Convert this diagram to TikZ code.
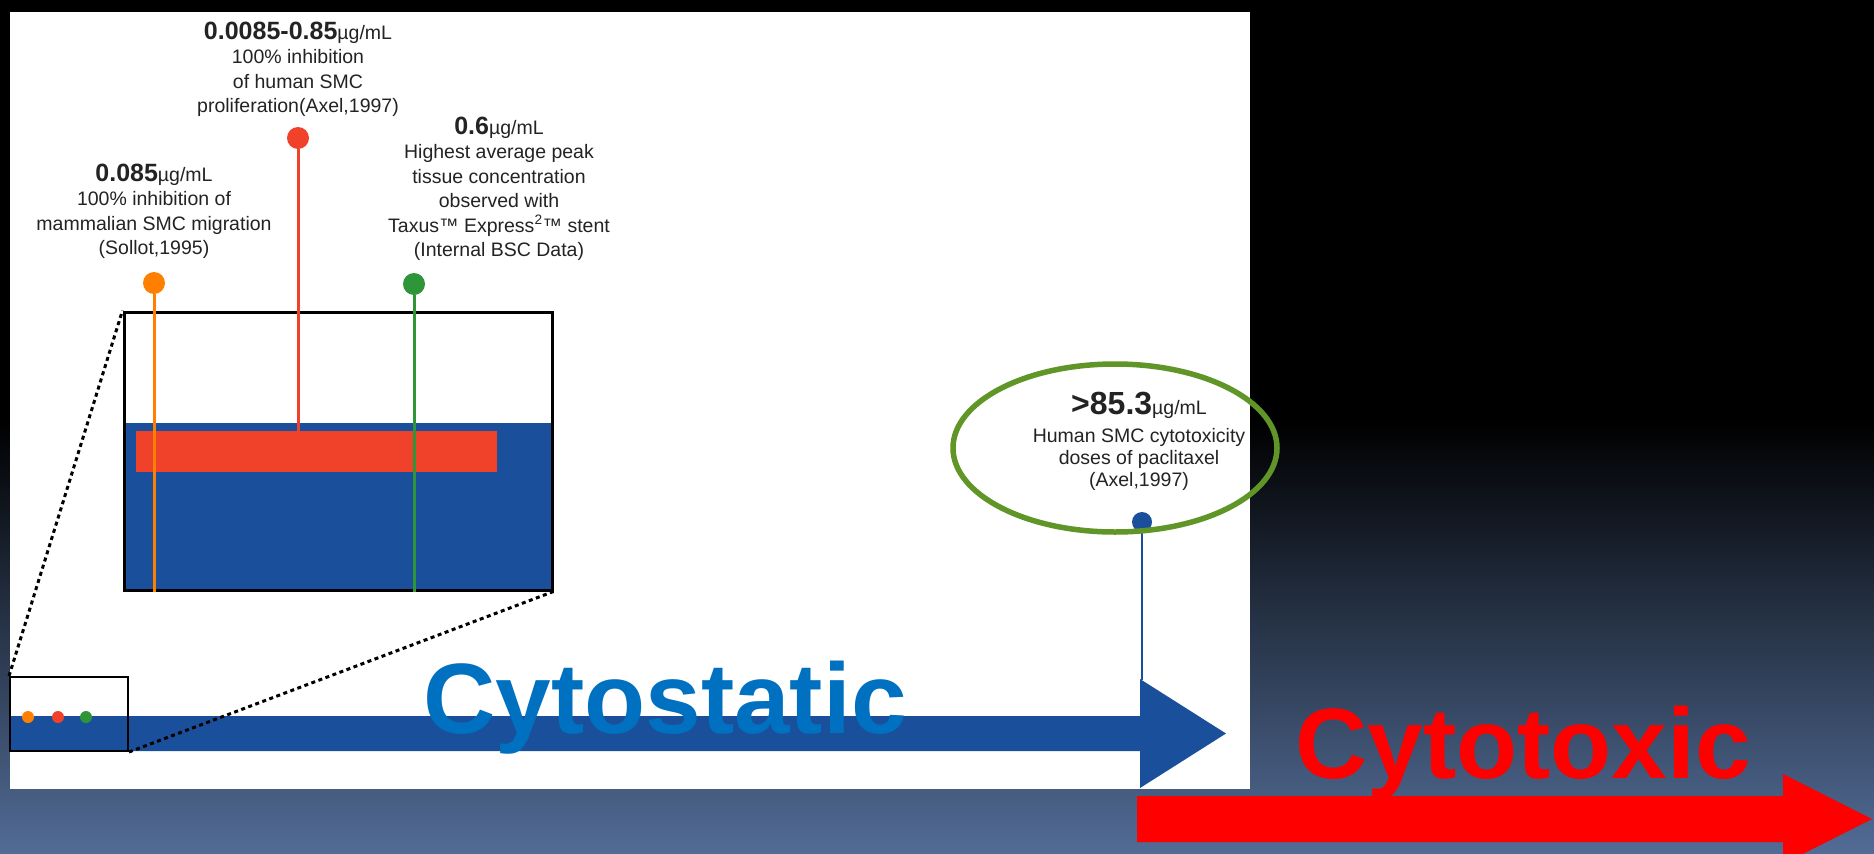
\documentclass[tikz,border=0pt]{standalone}
\usepackage{fontspec}
\setmainfont{Liberation Sans}
\usetikzlibrary{positioning,shapes.geometric}
\definecolor{axisblue}{RGB}{26,80,155}
\definecolor{wordblue}{RGB}{0,112,192}
\definecolor{migorange}{RGB}{255,128,0}
\definecolor{prolred}{RGB}{240,66,42}
\definecolor{peakgreen}{RGB}{46,150,56}
\definecolor{ringgreen}{RGB}{96,150,40}
\definecolor{slate}{RGB}{82,108,150}
\definecolor{ink}{RGB}{35,35,35}
\newcommand{\conc}[2][25]{{\fontsize{#1}{#1}\selectfont\bfseries #2}µg/mL}
\tikzset{
    doses/.style={x=1pt,y=-1pt},
    dosedot/.style={circle, fill=#1, inner sep=0pt, minimum size=22pt},
    minidot/.style={circle, fill=#1, inner sep=0pt, minimum size=12pt},
    stem/.style={draw=#1, line width=3pt},
    note/.style={align=center, inner sep=0pt, text=ink, font=\fontsize{19.5}{24.5}\selectfont},
    winbox/.style={draw, line width=#1, inner sep=0pt},
    zoomline/.style={dash pattern=on 4pt off 3.5pt, line width=3pt},
    bigword/.style={anchor=base, inner sep=0pt, font=\fontsize{100}{100}\selectfont\bfseries},
    }
\begin{document}
\begin{tikzpicture}[doses]
    \useasboundingbox (0,0) rectangle (1874,854);
    \clip (0,0) rectangle (1874,854);
    \fill[black] (0,0) rectangle (1874,854);
    \shade[top color=black, bottom color=slate] (0,420) rectangle (1874,854);
    \fill[white] (10,12) rectangle (1250,789);

    % enlarged window
    \fill[axisblue] (124,423) rectangle (552,590);
    \node[fill=prolred, inner sep=0pt, minimum width=361pt, minimum height=41pt] (bar) at (316.5,451.5) {};
    \node[winbox=3pt, minimum width=428pt, minimum height=278pt] (inset) at (338,451) {};

    % concentration axis
    \fill[axisblue] (10,716) -- (1140,716) -- (1140,679) -- (1226,733.5) -- (1140,788) -- (1140,751) -- (10,751) -- cycle;
    \node[winbox=2pt, minimum width=118pt, minimum height=74pt] (window) at (69,714) {};
    \node[minidot=migorange] (m1) at (28,717) {};
    \node[minidot=prolred] (m2) at (58,717) {};
    \node[minidot=peakgreen] (m3) at (86,717) {};
    \path[zoomline] (window.north west) edge (inset.north west)
                    (window.south east) edge (inset.south east);
    \coordinate (head) at (1142,680);

    \node[dosedot=migorange] (d1) at (154,283) {};
    \node[dosedot=prolred] (d2) at (298,138) {};
    \node[dosedot=peakgreen] (d3) at (414,284) {};
    \node[dosedot=axisblue, minimum size=20pt] (d4) at (1142,522) {};

    \path[stem=migorange] (d1) edge (d1 |- inset.south);
    \path[stem=prolred] (d2) edge (d2 |- bar.north);
    \path[stem=peakgreen] (d3) edge (d3 |- inset.south);
    \path[stem=axisblue, line width=2.5pt] (d4) edge (head);

    \node[note, above=13pt of d1] (l1) {\conc{0.085}\\100\% inhibition of\\mammalian SMC migration\\(Sollot,1995)};
    \node[note, above=10pt of d2] (l2) {\conc{0.0085-0.85}\\100\% inhibition\\of human SMC\\proliferation(Axel,1997)};
    \node[note, above=12pt of d3, xshift=85pt] (l3) {\conc{0.6}\\Highest average peak\\tissue concentration\\observed with\\Taxus™ Express\textsuperscript{2}™ stent\\(Internal BSC Data)};

    \node[draw=ringgreen, line width=5.5pt, ellipse, minimum width=324pt, minimum height=168pt] (ring) at (1115,448) {};
    \node[note, font=\fontsize{19.5}{22}\selectfont] (l4) at (1139,441) {\conc[32]{>85.3}\\[6pt]Human SMC cytotoxicity\\doses of paclitaxel\\(Axel,1997)};

    \node[bigword, text=wordblue] (stat) at (665,733) {Cytostatic};

    \fill[red] (1137,796) -- (1783,796) -- (1783,774) -- (1872,819) -- (1783,864) -- (1783,842) -- (1137,842) -- cycle;
    \node[bigword, text=red] (tox) at (1523,778) {Cytotoxic};
\end{tikzpicture}
\end{document}
